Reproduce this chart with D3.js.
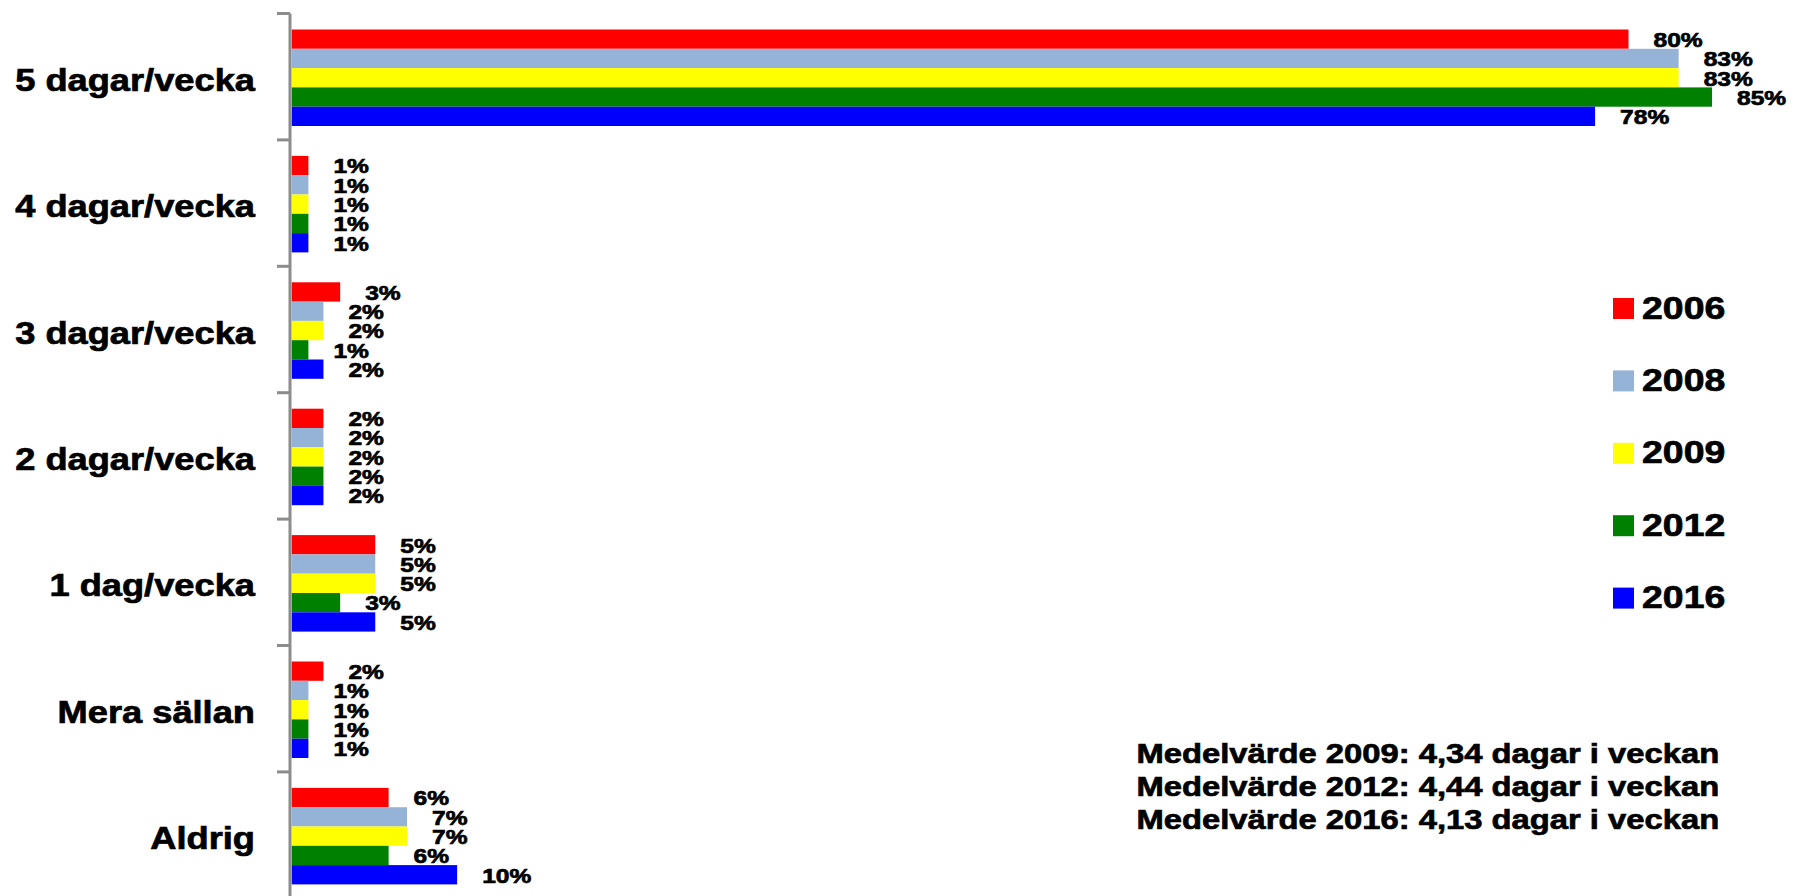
<!DOCTYPE html>
<html>
<head>
<meta charset="utf-8">
<script src="https://cdn.jsdelivr.net/npm/d3@7"></script>
<style>
  html, body { margin: 0; padding: 0; background: #fff; }
  svg { display: block; }
  text { font-family: "Liberation Sans", Arial, sans-serif; font-weight: bold; fill: #000; stroke: #000; stroke-width: 0.7px; }
</style>
</head>
<body>
<svg></svg>
<script>
const categories = ["5 dagar/vecka", "4 dagar/vecka", "3 dagar/vecka", "2 dagar/vecka", "1 dag/vecka", "Mera sällan", "Aldrig"]
const years = ["2006", "2008", "2009", "2012", "2016"]
const colors = ["#ff0000", "#95b3d7", "#ffff00", "#008000", "#0000ff"]

// percent per category, one array per year
const v2006 = [80, 1, 2.9, 1.9, 5, 1.9, 5.8]
const v2008 = [83, 1, 1.9, 1.9, 5, 1, 6.9]
const v2009 = [83, 1, 1.9, 1.9, 5, 1, 6.9]
const v2012 = [85, 1, 1, 1.9, 2.9, 1, 5.8]
const v2016 = [78, 1, 1.9, 1.9, 5, 1, 9.9]
const series = [v2006, v2008, v2009, v2012, v2016]

const notes = [
  "Medelvärde 2009: 4,34 dagar i veckan",
  "Medelvärde 2012: 4,44 dagar i veckan",
  "Medelvärde 2016: 4,13 dagar i veckan"
]

const stretch = 1.17

const svg = d3.select("svg")
  .attr("width", 1803)
  .attr("height", 896)

const catScale = d3.scaleBand()
  .domain(categories)
  .range([13.5, 13.5 + 126.4 * categories.length])

const yearScale = d3.scaleBand()
  .domain(years)
  .range([16, 112.5])

const xScale = d3.scaleLinear()
  .domain([0, 100])
  .range([291.7, 1962.7])

const rows = categories.map((c,i) => {
  return years.map((y,j) => {
    return {cat: c, year: y, value: series[j][i], color: colors[j]}
  })
})

const groups = svg
  .selectAll("g.cat")
  .data(rows)
  .enter().append("g")
  .attr("class", "cat")
  .attr("transform", (d,i) => {
    return `translate(0, ${catScale(categories[i])})`
  })

groups
  .selectAll("rect")
  .data(d => d)
  .enter().append("rect")
  .attr("x", xScale(0))
  .attr("y", d => yearScale(d.year))
  .attr("width", d => xScale(d.value) - xScale(0))
  .attr("height", yearScale.bandwidth())
  .attr("fill", d => d.color)

groups
  .selectAll("text.val")
  .data(d => d)
  .enter().append("text")
  .attr("class", "val")
  .attr("transform", d => {
    return `translate(${xScale(d.value) + 25}, ${yearScale(d.year) + yearScale.bandwidth() / 2 + 7.8}) scale(${stretch},1)`
  })
  .style("font-size", "21px")
  .text(d => Math.round(d.value) + "%")

// axis line + ticks at category boundaries
const axis = svg.append("g")
  .attr("stroke", "#8c8c8c")
  .attr("stroke-width", 3)

axis.append("line")
  .attr("x1", 290)
  .attr("x2", 290)
  .attr("y1", catScale.range()[0])
  .attr("y2", catScale.range()[1])

axis.selectAll("line.tick")
  .data(categories)
  .enter().append("line")
  .attr("class", "tick")
  .attr("x1", 277)
  .attr("x2", 290)
  .attr("y1", d => catScale(d))
  .attr("y2", d => catScale(d))

svg.selectAll("text.cat")
  .data(categories)
  .enter().append("text")
  .attr("class", "cat")
  .attr("text-anchor", "end")
  .attr("transform", d => {
    return `translate(255, ${catScale(d) + catScale.bandwidth() / 2 + 14}) scale(${stretch},1)`
  })
  .style("font-size", "31px")
  .text(d => d)

// legend
const legend = svg.selectAll("g.legend")
  .data(years)
  .enter().append("g")
  .attr("class", "legend")
  .attr("transform", (d,i) => `translate(1613, ${298 + i * 72.4})`)

legend.append("rect")
  .attr("width", 21)
  .attr("height", 21)
  .attr("fill", (d,i) => colors[i])

legend.append("text")
  .attr("transform", `translate(29, 20.5) scale(${stretch},1)`)
  .style("font-size", "32px")
  .text(d => d)

svg.selectAll("text.note")
  .data(notes)
  .enter().append("text")
  .attr("class", "note")
  .attr("transform", (d,i) => `translate(1136.5, ${763.3 + i * 33}) scale(${stretch},1)`)
  .style("font-size", "28px")
  .text(d => d)
</script>
</body>
</html>
